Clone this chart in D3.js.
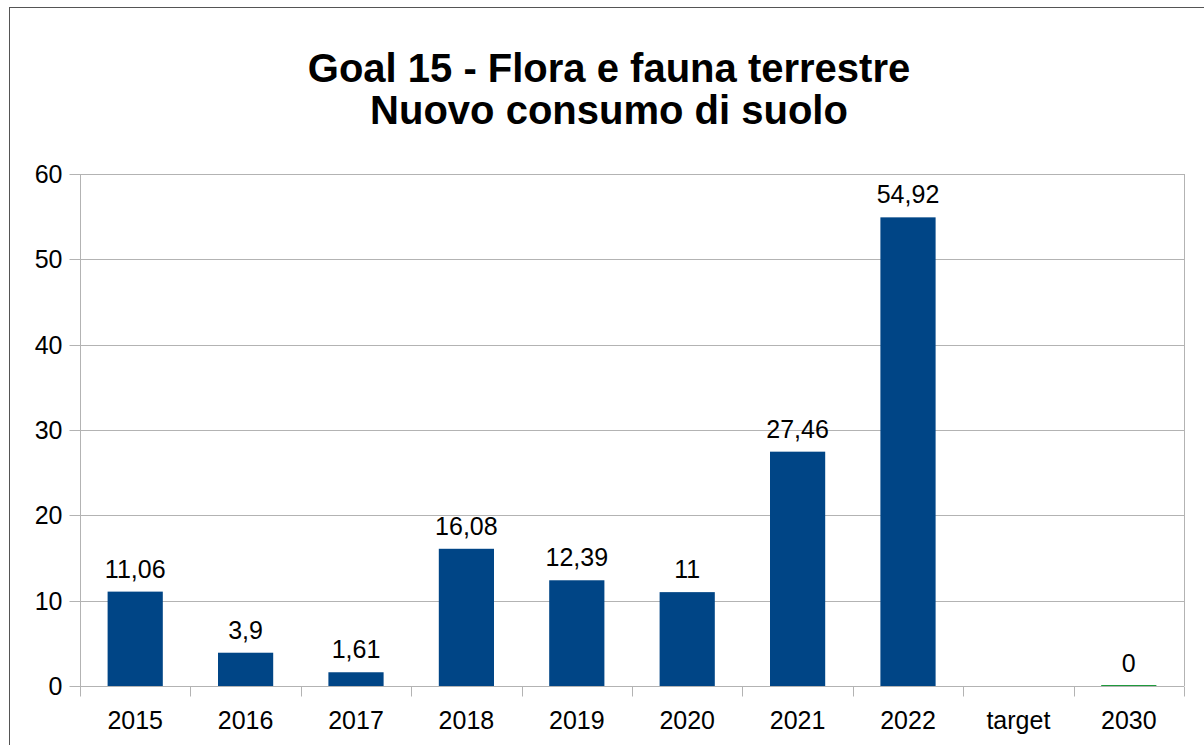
<!DOCTYPE html>
<meta charset="utf-8">
<style>
body { margin: 0; background: #fff; }
svg { display: block; font-family: "Liberation Sans", Arial, sans-serif; }
.title { font-size: 40px; font-weight: bold; fill: #000; }
.axis text { font-size: 25px; fill: #000; font-family: "Liberation Sans", Arial, sans-serif; }
.axis path { display: none; }
.axis line { stroke: #b3b3b3; }
.grid line { stroke: #b3b3b3; }
.label { font-size: 25px; fill: #000; }
</style>
<svg width="1204" height="745"></svg>
<script src="https://d3js.org/d3.v7.min.js"></script>
<script>

// data
var categories = ["2015", "2016", "2017", "2018", "2019", "2020", "2021", "2022", "target", "2030"];
var values = [11.06, 3.9, 1.61, 16.08, 12.39, 11, 27.46, 54.92, null, 0];
var labels = ["11,06", "3,9", "1,61", "16,08", "12,39", "11", "27,46", "54,92", "", "0"];
var barColors = ["#004586", "#004586", "#004586", "#004586", "#004586", "#004586", "#004586", "#004586", "#004586", "#1e9a3c"];
var yTicks = [0, 10, 20, 30, 40, 50, 60];
var titleLines = ["Goal 15 - Flora e fauna terrestre", "Nuovo consumo di suolo"];

var svg = d3.select("svg"),
    margin = {top: 174, right: 20, bottom: 59, left: 80},
    width = +svg.attr("width") - margin.left - margin.right,
    height = +svg.attr("height") - margin.top - margin.bottom;

// outer frame
svg.append("rect")
    .attr("x", 9.5)
    .attr("y", 7.5)
    .attr("width", 1300)
    .attr("height", 900)
    .attr("fill", "none")
    .attr("stroke", "#555");

svg.append("text")
    .attr("class", "title")
    .attr("text-anchor", "middle")
    .selectAll("tspan")
    .data(titleLines)
  .enter().append("tspan")
    .attr("x", 609)
    .attr("y", function(d, i) { return 82 + i * 42; })
    .text(function(d) { return d; });

var x = d3.scaleBand().domain(categories).range([0, width]).paddingInner(0.5).paddingOuter(0.25),
    y = d3.scaleLinear().domain([0, 60]).range([height, 0]);

var g = svg.append("g")
    .attr("transform", "translate(" + margin.left + "," + margin.top + ")");

// grid
g.append("g")
    .attr("class", "grid")
    .selectAll("line")
    .data(yTicks)
  .enter().append("line")
    .attr("x1", 0)
    .attr("x2", width)
    .attr("y1", function(d) { return Math.round(y(d)) + 0.5; })
    .attr("y2", function(d) { return Math.round(y(d)) + 0.5; });

// right frame of plot area
g.append("line")
    .attr("x1", width + 0.5).attr("x2", width + 0.5)
    .attr("y1", 0).attr("y2", height)
    .attr("stroke", "#b3b3b3");

// y axis
g.append("g")
    .attr("class", "axis y")
    .attr("transform", "translate(0.5,0)")
    .call(d3.axisLeft(y).tickValues(yTicks).tickSize(11).tickPadding(7).tickFormat(d3.format("d")))
    .call(function(a) {
      a.selectAll(".tick").attr("transform", function(d) { return "translate(0," + (Math.round(y(d)) + 0.5) + ")"; });
    });

g.append("line")
    .attr("x1", 0.5).attr("x2", 0.5)
    .attr("y1", 0).attr("y2", height + 10)
    .attr("stroke", "#b3b3b3");

// x axis: tick marks at category boundaries
var step = x.step();
var xAxis = g.append("g")
    .attr("class", "axis x")
    .attr("transform", "translate(0," + (Math.round(height) + 0.5) + ")");

xAxis.selectAll("line")
    .data(d3.range(categories.length + 1))
  .enter().append("line")
    .attr("x1", function(i) { return Math.round(i * step) + 0.5; })
    .attr("x2", function(i) { return Math.round(i * step) + 0.5; })
    .attr("y1", 0)
    .attr("y2", 10);

xAxis.selectAll("text")
    .data(categories)
  .enter().append("text")
    .attr("x", function(d) { return x(d) + x.bandwidth() / 2; })
    .attr("y", 42)
    .attr("text-anchor", "middle")
    .text(function(d) { return d; });

// bars
var data = categories.map(function(c, i) {
  return {cat: c, value: values[i], label: labels[i], color: barColors[i]};
}).filter(function(d) { return d.value !== null; });

g.selectAll(".bar")
    .data(data)
  .enter().append("rect")
    .attr("class", "bar")
    .attr("x", function(d) { return x(d.cat); })
    .attr("y", function(d) { return y(d.value); })
    .attr("width", x.bandwidth())
    .attr("height", function(d) { return height - y(d.value); })
    .attr("fill", function(d) { return d.color; });

// zero-height bars still show as a thin line
g.selectAll(".zero")
    .data(data.filter(function(d) { return d.value === 0; }))
  .enter().append("line")
    .attr("x1", function(d) { return x(d.cat); })
    .attr("x2", function(d) { return x(d.cat) + x.bandwidth(); })
    .attr("y1", function(d) { return y(d.value) - 0.5; })
    .attr("y2", function(d) { return y(d.value) - 0.5; })
    .attr("stroke", function(d) { return d.color; })
    .attr("stroke-width", 1);

g.selectAll(".label")
    .data(data)
  .enter().append("text")
    .attr("class", "label")
    .attr("x", function(d) { return x(d.cat) + x.bandwidth() / 2; })
    .attr("y", function(d) { return y(d.value) - 14; })
    .attr("text-anchor", "middle")
    .text(function(d) { return d.label; });

</script>
